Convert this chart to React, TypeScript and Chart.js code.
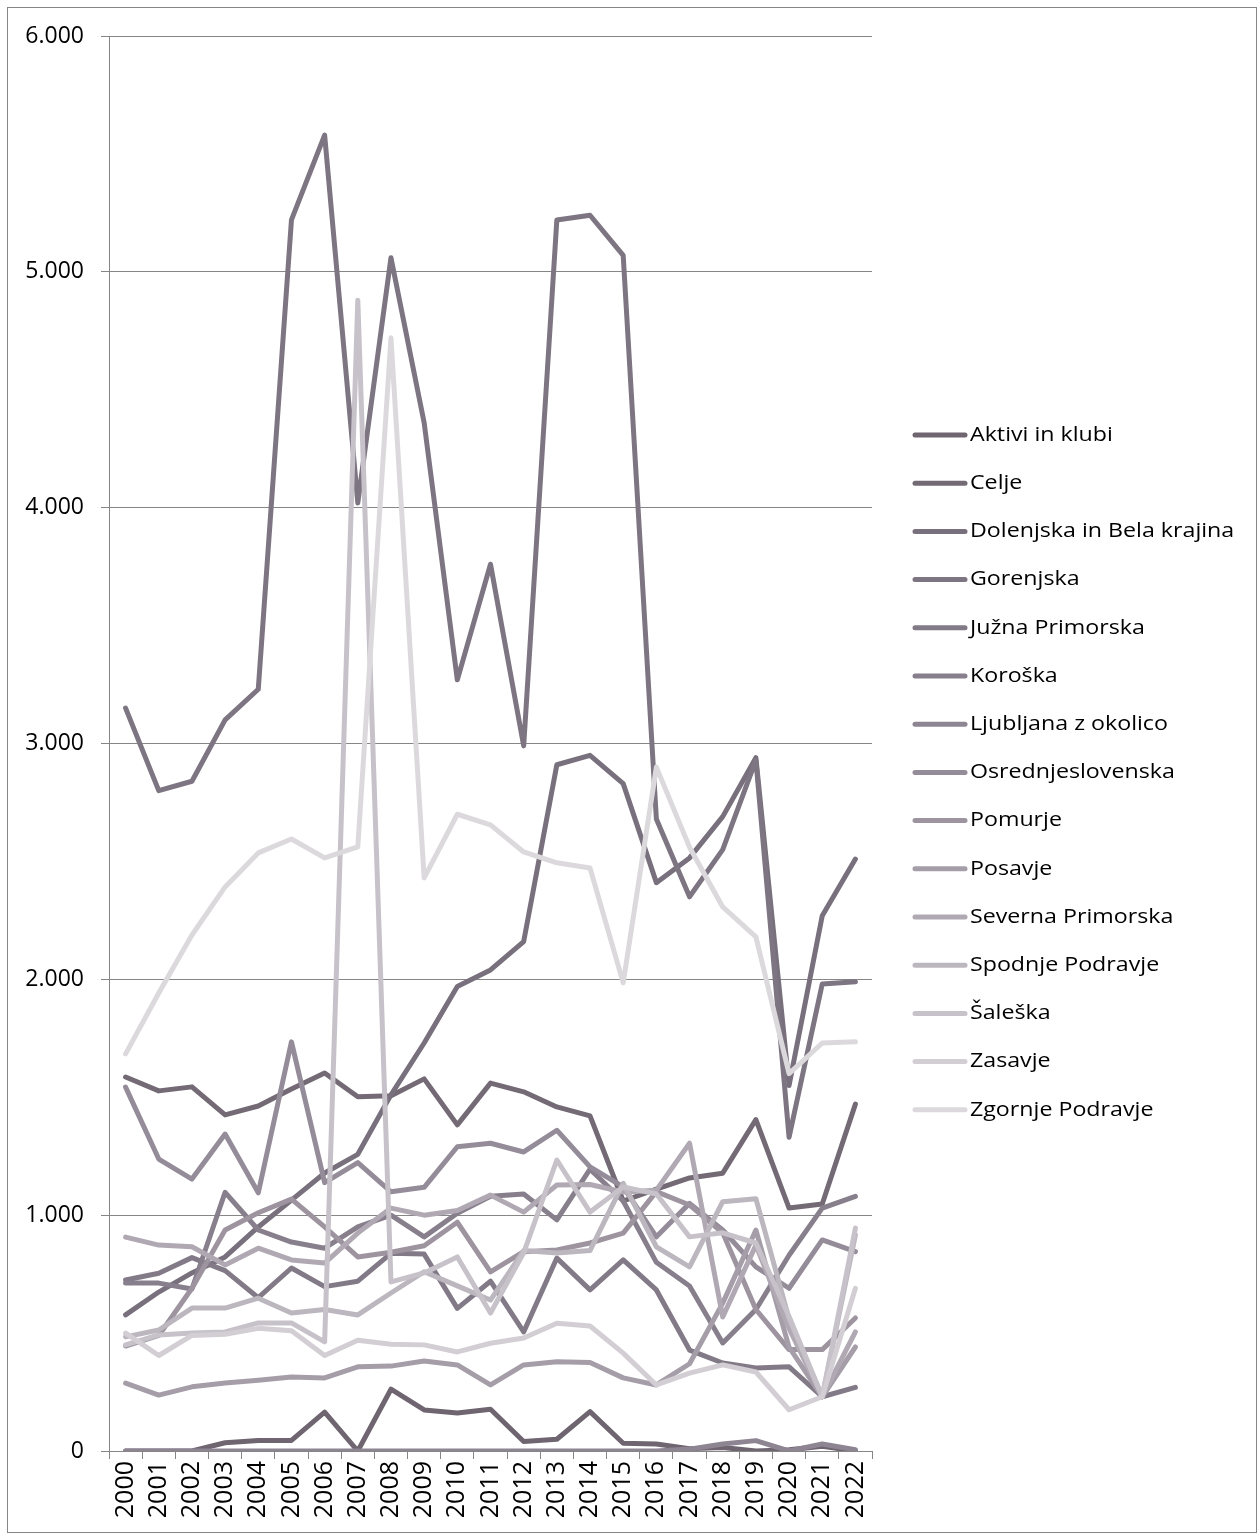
import React, { useEffect, useRef } from "react";
import { Chart, registerables } from "chart.js";

Chart.register(...registerables);

const years = ["2000","2001","2002","2003","2004","2005","2006","2007","2008","2009","2010","2011","2012","2013","2014","2015","2016","2017","2018","2019","2020","2021","2022"];

const aktivi = [0,0,0,35,45,45,165,0,262,174,161,177,40,50,167,33,30,10,15,0,5,20,0];
const celje = [1586,1527,1544,1425,1463,1535,1603,1502,1506,1578,1383,1560,1523,1459,1421,1060,1110,1158,1178,1405,1030,1047,1471];
const dolenjska = [577,674,755,823,950,1064,1179,1258,1510,1730,1970,2040,2160,2910,2950,2830,2410,2515,2690,2940,1550,2270,2510];
const gorenjska = [3150,2800,2840,3100,3230,5220,5580,4020,5060,4360,3270,3760,2990,5220,5240,5070,2680,2350,2550,2930,1330,1980,1990];
const juzna = [725,754,820,765,650,776,697,720,838,835,605,720,505,818,683,810,683,428,373,352,357,230,270];
const koroska = [712,712,687,1097,937,886,860,950,1000,908,1008,1080,1090,980,1195,1060,800,700,458,600,830,1030,1080];
const ljubljana = [0,0,0,0,0,0,0,0,0,0,0,0,0,0,0,0,0,8,30,44,0,30,5];
const osrednjeslovenska = [1543,1238,1153,1344,1095,1735,1138,1223,1099,1118,1290,1305,1268,1360,1205,1120,908,1050,937,781,690,895,845];
const pomurje = [445,490,690,937,1010,1068,950,823,843,870,970,760,845,852,882,924,1100,1043,925,600,430,430,564];
const posavje = [288,237,272,288,300,314,310,357,360,382,365,280,365,378,375,310,280,370,627,937,440,230,441];
const severna = [907,873,866,789,860,810,797,924,1030,1000,1020,1085,1013,1128,1130,1098,1106,1305,568,873,520,230,505];
const spodnje = [484,513,606,606,648,585,600,577,670,760,700,640,850,840,850,1135,866,781,1057,1070,560,230,916];
const saleska = [450,492,500,505,543,543,463,4880,717,755,823,585,840,1234,1013,1120,1090,908,925,882,570,230,945];
const zasavje = [500,405,490,495,520,510,405,470,453,450,420,457,479,542,530,415,280,330,365,335,175,230,690];
const zgornje = [1684,1942,2188,2392,2536,2595,2515,2562,4720,2430,2700,2655,2540,2494,2472,1985,2900,2560,2307,2180,1600,1730,1735];

const seriesNames = ["Aktivi in klubi","Celje","Dolenjska in Bela krajina","Gorenjska","Južna Primorska","Koroška","Ljubljana z okolico","Osrednjeslovenska","Pomurje","Posavje","Severna Primorska","Spodnje Podravje","Šaleška","Zasavje","Zgornje Podravje"];
const seriesValues = [aktivi,celje,dolenjska,gorenjska,juzna,koroska,ljubljana,osrednjeslovenska,pomurje,posavje,severna,spodnje,saleska,zasavje,zgornje];
const palette = ["#6e6570","#736a75","#78707c","#7d7582","#837a88","#887f8d","#8e8593","#958c99","#9d94a0","#a59ea9","#b0a9b3","#bcb6bf","#c7c2c9","#d2ced3","#dcd9dd"];

const FONT = "'Open Sans', sans-serif";
const GRID = "#868686";

const frameAndLegend = {
  id: "frameAndLegend",
  beforeDraw(chart: any) {
    const ctx = chart.ctx;
    ctx.save();
    ctx.fillStyle = "#ffffff";
    ctx.fillRect(0, 0, chart.width, chart.height);
    ctx.strokeStyle = GRID;
    ctx.lineWidth = 1;
    ctx.strokeRect(7.5, 7.5, chart.width - 9, chart.height - 9);
    ctx.restore();
  },
  afterDraw(chart: any) {
    const ctx = chart.ctx;
    ctx.save();
    ctx.font = `20px ${FONT}`;
    ctx.textBaseline = "middle";
    ctx.textAlign = "left";
    chart.data.datasets.forEach((ds: any, i: number) => {
      const y = 435 + i * 48.2;
      ctx.strokeStyle = ds.borderColor;
      ctx.lineWidth = 5;
      ctx.lineCap = "round";
      ctx.beginPath();
      ctx.moveTo(915, y);
      ctx.lineTo(965, y);
      ctx.stroke();
      ctx.fillStyle = "#000000";
      ctx.save();
      ctx.translate(970, y);
      ctx.scale(1.16, 1);
      ctx.fillText(ds.label, 0, 0);
      ctx.restore();
    });
    ctx.restore();
  },
};

export default function App() {
  const ref = useRef<HTMLCanvasElement | null>(null);
  useEffect(() => {
    if (!ref.current) return;
    const datasets = seriesNames.map((name, i) => ({
      label: name,
      data: seriesValues[i],
      borderColor: palette[i],
      backgroundColor: palette[i],
      borderWidth: 5,
      borderCapStyle: "round" as const,
      borderJoinStyle: "round" as const,
      pointRadius: 0,
      tension: 0,
      fill: false,
      order: seriesNames.length - i,
    }));
    const chart = new Chart(ref.current, {
      type: "line",
      data: { labels: years, datasets },
      options: {
        animation: false,
        responsive: false,
        maintainAspectRatio: false,
        layout: { padding: { left: 0, top: 36, right: 386, bottom: 0 } },
        plugins: { legend: { display: false }, tooltip: { enabled: false } },
        scales: {
          x: {
            type: "category",
            offset: true,
            grid: { display: true, drawOnChartArea: false, drawTicks: true, tickLength: 8, offset: true, color: GRID },
            border: { display: true, color: GRID, width: 1 },
            ticks: { color: "#000", font: { family: FONT, size: 25 }, minRotation: 90, maxRotation: 90, padding: 2, autoSkip: false },
            afterFit: (s: any) => { s.height = 83; },
          },
          y: {
            min: 0,
            max: 6000,
            grid: { color: GRID, lineWidth: 1, tickLength: 8, drawTicks: true },
            border: { display: true, color: GRID, width: 1 },
            ticks: {
              stepSize: 1000,
              color: "#000",
              padding: 17,
              font: { family: FONT, size: 23 },
              callback: (v: any) => {
                const n = Number(v);
                return n >= 1000 ? `${Math.floor(n / 1000)}.${String(n % 1000).padStart(3, "0")}` : String(n);
              },
            },
            afterFit: (s: any) => { s.width = 109; },
          },
        },
      },
      plugins: [frameAndLegend],
    });
    return () => chart.destroy();
  }, []);
  return (
    <div style={{ position: "absolute", left: 0, top: 0, width: 1258, height: 1534 }}>
      <canvas ref={ref} width={1258} height={1534} style={{ display: "block", width: 1258, height: 1534 }} />
    </div>
  );
}
